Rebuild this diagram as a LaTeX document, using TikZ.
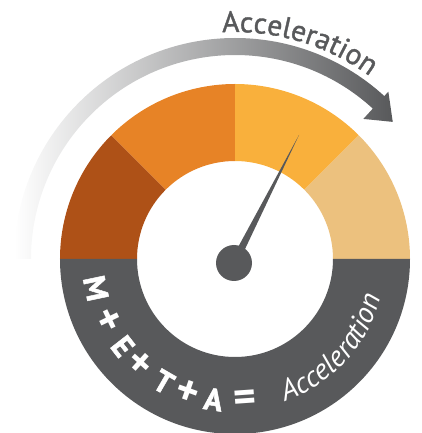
\documentclass[tikz,border=0pt]{standalone}
\usepackage{fontspec}
\setmainfont{PT Sans}
\newfontfamily\semib[FakeBold=1.2]{PT Sans}
\newfontfamily\heavy[FakeBold=1.5]{PT Sans Bold}
\usetikzlibrary{decorations.text}
\definecolor{gdark}{HTML}{58595B}
\definecolor{cbrown}{HTML}{AE5117}
\definecolor{corange}{HTML}{E78326}
\definecolor{cyellow}{HTML}{F9B03C}
\definecolor{ctan}{HTML}{ECC17E}
\begin{document}
\begin{tikzpicture}[x=1pt,y=1pt,
  boldch/.style={anchor=base,inner sep=0pt,text=white,font=\heavy\fontsize{31}{31}\selectfont},
  symch/.style={anchor=center,inner sep=0pt,text=white,scale=1.4,font=\bfseries\fontsize{31}{31}\selectfont}]
\useasboundingbox (-235,-174) rectangle (187,259);
% gauge segments
\fill[cbrown] (180:175) arc[start angle=180,end angle=135,radius=175] -- (135:98) arc[start angle=135,end angle=180,radius=98] -- cycle;
\fill[corange] (135:175) arc[start angle=135,end angle=90,radius=175] -- (90:98) arc[start angle=90,end angle=135,radius=98] -- cycle;
\fill[cyellow] (90:175) arc[start angle=90,end angle=45,radius=175] -- (45:98) arc[start angle=45,end angle=90,radius=98] -- cycle;
\fill[ctan] (45:175) arc[start angle=45,end angle=0,radius=175] -- (0:98) arc[start angle=0,end angle=45,radius=98] -- cycle;
\fill[gdark] (180:175) arc[start angle=180,end angle=360,radius=175] -- (0:98) arc[start angle=360,end angle=180,radius=98] -- cycle;
% arrow band
\shade[left color=white,right color=gdark] (180:221) arc[start angle=180,end angle=47.5,radius=221] -- (47.5:227) -- (41:209) -- (47.5:190) -- (47.5:204) arc[start angle=47.5,end angle=180,radius=204] -- cycle;
% top text
\path[decorate,decoration={text along path,text align=center,text color=gdark,
  text={|\semib\fontsize{29.5}{29.5}\selectfont|Acceleration}}]
  (123.4:227) arc[start angle=123.4,end angle=23.4,radius=227];
% needle and hub
\fill[gdark] (-4.56,-2.19) -- (64,124) -- (2.56,-5.81) -- cycle;
\node[circle,fill=gdark,minimum size=36pt,inner sep=0pt] (hub) at (-1,-4) {};
% bottom text
\foreach \ch/\a [count=\i] in {M/191.9,E/217.9,T/239.9,A/261.3}
  \node[boldch,rotate=\a+90] (b\i) at (\a:153) {\ch};
\foreach \ch/\a [count=\i] in {+/205.7,+/227.8,+/250.3,=/274}
  \node[symch,rotate=\a+90] (s\i) at (\a:142) {\ch};
\path[decorate,decoration={text along path,text align=center,text color=white,
  text={|\fontsize{29.5}{29.5}\selectfont\itshape|Acceleration}}]
  (257.4:151) arc[start angle=257.4,end angle=377.4,radius=151];
\end{tikzpicture}
\end{document}
